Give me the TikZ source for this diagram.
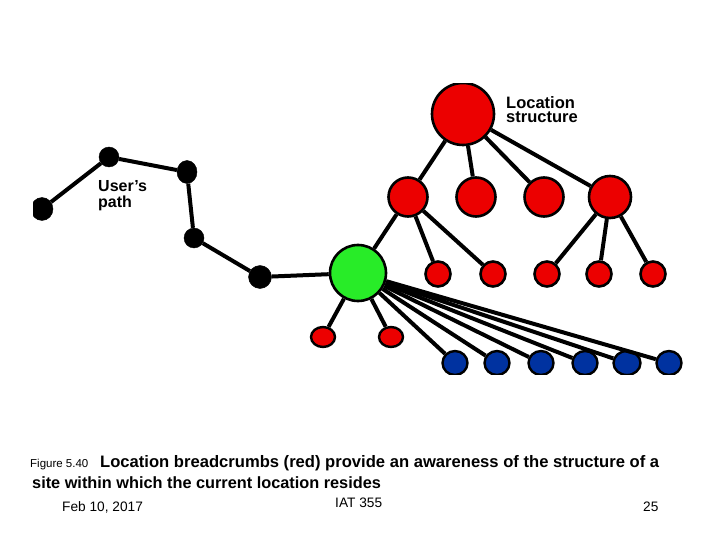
\documentclass[tikz,border=0pt]{standalone}
\usepackage{fontspec}
\setmainfont{Liberation Sans}
\usetikzlibrary{shapes.geometric}
\definecolor{crumbred}{RGB}{236,0,0}
\definecolor{heregreen}{RGB}{40,236,40}
\definecolor{pageblue}{RGB}{0,50,160}

\begin{document}
\begin{tikzpicture}[x=1pt,y=-1pt,
		pathdot/.style={ellipse,draw=black,fill=black,inner sep=0pt},
		crumb/.style={circle,draw=black,line width=2.6pt,fill=crumbred,inner sep=0pt},
		leaf/.style={ellipse,draw=black,line width=2.4pt,inner sep=0pt,minimum width=25pt,minimum height=24pt},
		link/.style={line width=4pt}]
			\useasboundingbox (0,0) rectangle (720,540);
			\begin{scope}
			\clip (33,84) rectangle (700,374);
			% user's path
			\node[pathdot,minimum width=22pt,minimum height=23pt] (u1) at (42,209){};
			\node[pathdot,minimum width=20pt,minimum height=20pt] (u2) at (109,157){};
			\node[pathdot,minimum width=20pt,minimum height=23pt] (u3) at (187,172){};
			\node[pathdot,minimum width=20pt,minimum height=20pt] (u4) at (194,238){};
			\node[pathdot,minimum width=23pt,minimum height=23pt] (u5) at (260,277){};
			% location structure
			\node[crumb,minimum size=62pt] (root) at (463,114){};
			\node[crumb,minimum size=39pt] (a1) at (408,197){};
			\node[crumb,minimum size=39pt] (a2) at (476,197){};
			\node[crumb,minimum size=39pt] (a3) at (544,197){};
			\node[crumb,minimum size=42pt] (a4) at (610,197){};
			\node[crumb,minimum size=56pt,fill=heregreen] (here) at (358,273){};
			\node[crumb,minimum size=25pt] (b1) at (438,274){};
			\node[crumb,minimum size=25pt] (b2) at (493,274){};
			\node[crumb,minimum size=25pt] (d1) at (547,274){};
			\node[crumb,minimum size=25pt] (d2) at (599,274){};
			\node[crumb,minimum size=25pt] (d3) at (653,274){};
			\node[leaf,fill=crumbred,minimum width=24pt,minimum height=20pt] (c1) at (323,337){};
			\node[leaf,fill=crumbred,minimum width=24pt,minimum height=20pt] (c2) at (391,337){};
			\node[leaf,fill=pageblue] (p1) at (455,363){};
			\node[leaf,fill=pageblue] (p2) at (497,363){};
			\node[leaf,fill=pageblue] (p3) at (541,363){};
			\node[leaf,fill=pageblue] (p4) at (585,363){};
			\node[leaf,fill=pageblue,minimum width=27pt] (p5) at (627,363){};
			\node[leaf,fill=pageblue] (p6) at (669,363){};
			\draw[link] (u1) -- (u2) -- (u3) -- (u4) -- (u5) -- (here);
			\draw (root) edge [link] (a1) edge [link] (a2) edge [link] (a3) edge [link] (a4);
			\draw (a1) edge [link] (here) edge [link] (b1) edge [link] (b2);
			\draw (a4) edge [link] (d1) edge [link] (d2) edge [link] (d3);
			\draw (here) edge [link] (c1) edge [link] (c2);
			\foreach \i in {1,...,6}
				\draw (here) edge [link] (p\i);
			\end{scope}
			\node[anchor=north west,inner sep=0pt,align=left,font=\bfseries\fontsize{16}{16.5}\selectfont] (pathlabel) at (98,180){User’s\\path};
			\node[anchor=north west,inner sep=0pt,align=left,font=\bfseries\fontsize{16.5}{14.5}\selectfont] (structlabel) at (506,96){Location\\structure};
			% caption and footer
			\node[anchor=base west,inner sep=0pt,font=\fontsize{11.5}{12}\selectfont] (fignum) at (30,467){Figure 5.40};
			\node[anchor=base west,inner sep=0pt,font=\bfseries\fontsize{16.6}{18}\selectfont] (cap1) at (100,467){Location breadcrumbs (red) provide an awareness of the structure of a};
			\node[anchor=base west,inner sep=0pt,font=\bfseries\fontsize{16.3}{18}\selectfont] (cap2) at (32,488){site within which the current location resides};
			\node[anchor=base west,inner sep=0pt,font=\fontsize{13.7}{15}\selectfont] (date) at (62,511){Feb 10, 2017};
			\node[anchor=base west,inner sep=0pt,font=\fontsize{13.7}{15}\selectfont] (course) at (335,507){IAT 355};
			\node[anchor=base west,inner sep=0pt,font=\fontsize{13.7}{15}\selectfont] (pagenum) at (643,511){25};
		\end{tikzpicture}
\end{document}
